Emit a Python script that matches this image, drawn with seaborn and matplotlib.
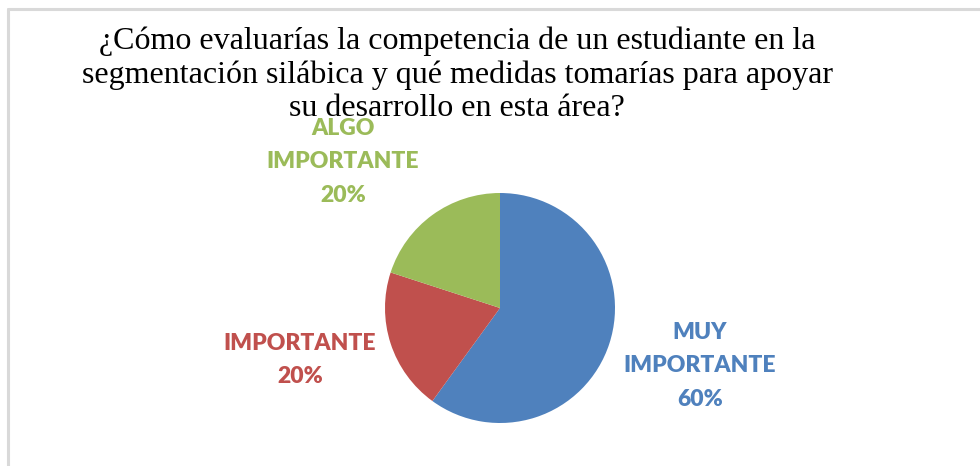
import matplotlib
matplotlib.use("Agg")
import matplotlib.pyplot as plt
import seaborn as sns

categories = ["MUY\nIMPORTANTE", "IMPORTANTE", "ALGO\nIMPORTANTE"]
values = [60, 20, 20]
colors = ["#4F81BD", "#C0504D", "#9BBB59"]
title = ("¿Cómo evaluarías la competencia de un estudiante en la\n"
         "segmentación silábica y qué medidas tomarías para apoyar\n"
         "su desarrollo en esta área?")

sns.set_theme(style="white")
plt.rcParams["font.family"] = ["Lato", "DejaVu Sans"]

W, H = 980, 466
fig = plt.figure(figsize=(W / 100, H / 100), dpi=100)
fig.patch.set_facecolor("white")

# border lines (left and top)
fig.add_artist(plt.Line2D([8 / W, 8 / W], [0, 1 - 9 / H], color="#D9D9D9", lw=2.2,
                          transform=fig.transFigure))
fig.add_artist(plt.Line2D([8 / W, 1], [1 - 9 / H, 1 - 9 / H], color="#D9D9D9", lw=2.2,
                          transform=fig.transFigure))

# pie axes: center (500,308) radius 115 px
cx, cy, r = 500, 308, 115
ax = fig.add_axes([(cx - r) / W, (H - cy - r) / H, 2 * r / W, 2 * r / H])
total = sum(values)
wedges, _ = ax.pie(values, colors=colors, startangle=90, counterclock=False,
                   wedgeprops=dict(linewidth=0, edgecolor="none"))
ax.set_xlim(-1, 1)
ax.set_ylim(-1, 1)
ax.set_aspect("equal")
ax.axis("off")

# labels in pixel positions (center of text block)
label_pos = [(700, 366), (300, 360), (343, 162)]
for cat, val, col, (lx, ly) in zip(categories, values, colors, label_pos):
    pct = round(100 * val / total)
    fig.text(lx / W, 1 - ly / H, f"{cat}\n{pct}%", color=col, fontsize=16.5,
             fontweight="heavy", ha="center", va="center", linespacing=1.72)

fig.text(457 / W, 1 - 75 / H, title, ha="center", va="center",
         family=["Liberation Serif", "DejaVu Serif"], fontsize=23, color="black",
         linespacing=1.2)

fig.savefig("out.png", dpi=100)
